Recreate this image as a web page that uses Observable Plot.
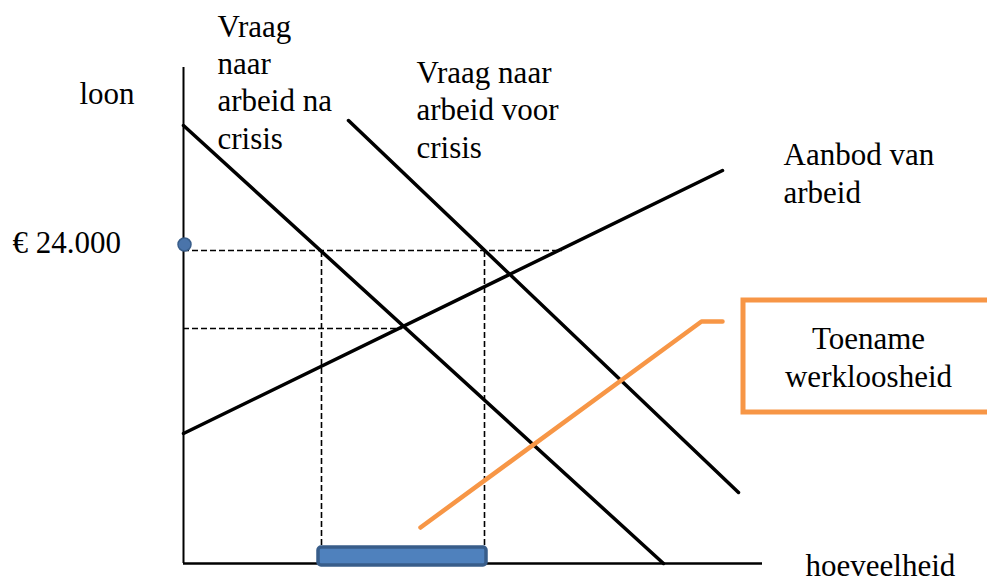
<!DOCTYPE html>
<html>
<head>
<meta charset="utf-8">
<script src="https://cdn.jsdelivr.net/npm/d3@7"></script>
<script src="https://cdn.jsdelivr.net/npm/@observablehq/plot@0.6"></script>
<style>
  html, body { margin: 0; padding: 0; background: #fff; }
  svg { display: block; }
  svg text { font-family: "Liberation Serif", "Times New Roman", serif !important; }
</style>
</head>
<body>
<div id="chart"></div>
<script>
// Schematic labour market (abstract units: quantity q, wage w)
const demandAfter  = [{q: 0, w: 438}, {q: 480, w: 0}];      // Vraag naar arbeid na crisis
const demandBefore = [{q: 165, w: 443}, {q: 555, w: 71}];   // Vraag naar arbeid voor crisis
const supply       = [{q: 0, w: 130}, {q: 539, w: 393}];    // Aanbod van arbeid
const wageFixed = 313;     // € 24.000
const wageEq = 235;        // equilibrium wage after crisis
const qAfter = 138;        // labour demanded at € 24.000 after crisis
const qBefore = 301;       // labour demanded at € 24.000 before crisis
const qCross = 219;        // equilibrium quantity after crisis
const qSupplyAtFixed = 379;
const pointer = [{q: 237, w: 36}, {q: 518, w: 242}, {q: 539, w: 242}];
const axisTop = 496, axisRight = 579;

const font = "Liberation Serif";
const T = {textAnchor: "start", lineAnchor: "bottom", lineHeight: 1.2, fontSize: 31, fill: "#000", fontFamily: font};

const chart = Plot.plot({
  width: 987,
  height: 581,
  margin: 0,
  x: {domain: [-183, 804], range: [0, 987], axis: null},
  y: {domain: [-18, 563], range: [581, 0], axis: null},
  style: {fontFamily: font, background: "#fff", overflow: "visible"},
  marks: [
    // axes
    Plot.ruleX([0], {y1: 0, y2: axisTop, stroke: "#000", strokeWidth: 2}),
    Plot.ruleY([0], {x1: 0, x2: axisRight, stroke: "#000", strokeWidth: 2.5}),
    // dashed guides
    Plot.ruleY([wageFixed], {x1: 0, x2: qSupplyAtFixed, stroke: "#000", strokeWidth: 1.6, strokeDasharray: "6,3"}),
    Plot.ruleY([wageEq], {x1: 0, x2: qCross, stroke: "#000", strokeWidth: 1.6, strokeDasharray: "6,3"}),
    Plot.ruleX([qAfter, qBefore], {y1: 0, y2: wageFixed, stroke: "#000", strokeWidth: 1.6, strokeDasharray: "6,3"}),
    // curves
    Plot.line(demandAfter, {x: "q", y: "w", stroke: "#000", strokeWidth: 3.5}),
    Plot.line(demandBefore, {x: "q", y: "w", stroke: "#000", strokeWidth: 3.5}),
    Plot.line(supply, {x: "q", y: "w", stroke: "#000", strokeWidth: 3.5}),
    // unemployment bar
    Plot.rect([{q1: qAfter - 3, q2: qBefore + 2, w1: -2, w2: 16}], {
      x1: "q1", x2: "q2", y1: "w1", y2: "w2",
      fill: "#4f81bd", stroke: "#385d8a", strokeWidth: 3.5, rx: 3
    }),
    // wage dot
    Plot.dot([{q: 1, w: wageFixed + 6}], {x: "q", y: "w", r: 6.5, fill: "#4a74aa", stroke: "#385d8a", strokeWidth: 1.5}),
    // orange pointer and box
    Plot.line(pointer, {x: "q", y: "w", stroke: "#f79646", strokeWidth: 4.5}),
    Plot.rect([{q1: 560, q2: 830, w1: 151, w2: 263}], {
      x1: "q1", x2: "q2", y1: "w1", y2: "w2",
      fill: "none", stroke: "#f79646", strokeWidth: 5
    }),
    // labels
    Plot.text(["loon"], {...T, x: -104, y: 563 - 103}),
    Plot.text(["€ 24.000"], {...T, x: -171, y: 563 - 252}),
    Plot.text(["Vraag\nnaar\narbeid na\ncrisis"], {...T, x: 34, y: 563 - 148}),
    Plot.text(["Vraag naar\narbeid voor\ncrisis"], {...T, x: 233, y: 563 - 157}),
    Plot.text(["Aanbod van\narbeid"], {...T, x: 600, y: 563 - 202}),
    Plot.text(["Toename\nwerkloosheid"], {...T, textAnchor: "middle", x: 685, y: 563 - 386}),
    Plot.text(["hoeveelheid"], {...T, x: 622, y: 563 - 575})
  ]
});
document.getElementById("chart").appendChild(chart);
</script>
</body>
</html>
